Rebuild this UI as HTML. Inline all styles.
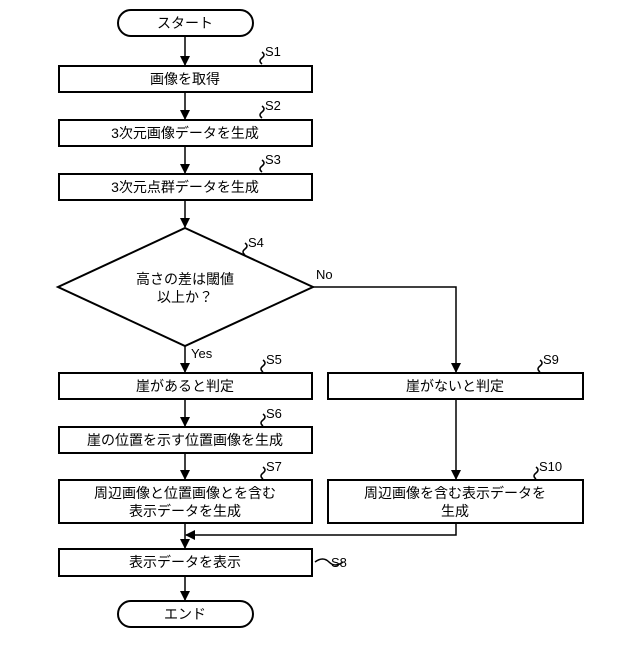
<!DOCTYPE html>
<html><head><meta charset="utf-8"><style>
body{margin:0;background:#fff}
text{font-family:"Liberation Sans","Noto Sans CJK JP",sans-serif;fill:#000}
</style></head><body>
<svg width="640" height="640" viewBox="0 0 640 640" xmlns="http://www.w3.org/2000/svg">
<defs><marker id="a" markerWidth="10" markerHeight="10" refX="9" refY="5" orient="auto" markerUnits="userSpaceOnUse"><path d="M0,0 L10,5 L0,10 Z" fill="#000"/></marker></defs>
<g fill="#fff" stroke="#000" stroke-width="2">
<rect x="118" y="10" width="135" height="26" rx="13"/>
<rect x="59" y="66" width="253" height="26"/>
<rect x="59" y="120" width="253" height="26"/>
<rect x="59" y="174" width="253" height="26"/>
<path d="M185,228 L313,287 L185,346 L58,287 Z"/>
<rect x="59" y="373" width="253" height="26"/>
<rect x="59" y="427" width="253" height="26"/>
<rect x="59" y="480" width="253" height="43"/>
<rect x="328" y="373" width="255" height="26"/>
<rect x="328" y="480" width="255" height="43"/>
<rect x="59" y="549" width="253" height="27"/>
<rect x="118" y="601" width="135" height="26" rx="13"/>
</g>
<g stroke="#000" stroke-width="1.5" fill="none">
<line x1="185" y1="36" x2="185" y2="65" marker-end="url(#a)"/>
<line x1="185" y1="92" x2="185" y2="119" marker-end="url(#a)"/>
<line x1="185" y1="146" x2="185" y2="173" marker-end="url(#a)"/>
<line x1="185" y1="200" x2="185" y2="227" marker-end="url(#a)"/>
<line x1="185" y1="346" x2="185" y2="372" marker-end="url(#a)"/>
<polyline points="313,287 456,287 456,372" marker-end="url(#a)"/>
<line x1="185" y1="399" x2="185" y2="426" marker-end="url(#a)"/>
<line x1="185" y1="453" x2="185" y2="479" marker-end="url(#a)"/>
<line x1="456" y1="399" x2="456" y2="479" marker-end="url(#a)"/>
<line x1="185" y1="523" x2="185" y2="548" marker-end="url(#a)"/>
<polyline points="456,523 456,535 186,535" marker-end="url(#a)"/>
<line x1="185" y1="576" x2="185" y2="600" marker-end="url(#a)"/>
<path d="M262,64 q-4,-3 0,-6 q4,-3 0,-6"/>
<path d="M262,118 q-4,-3 0,-6 q4,-3 0,-6"/>
<path d="M262,172 q-4,-3 0,-6 q4,-3 0,-6"/>
<path d="M245,255 q-4,-3 0,-6 q4,-3 0,-6"/>
<path d="M263,372 q-4,-3 0,-6 q4,-3 0,-6"/>
<path d="M263,426 q-4,-3 0,-6 q4,-3 0,-6"/>
<path d="M263,479 q-4,-3 0,-6 q4,-3 0,-6"/>
<path d="M540,372 q-4,-3 0,-6 q4,-3 0,-6"/>
<path d="M536,479 q-4,-3 0,-6 q4,-3 0,-6"/>
<path d="M315,562 q8,-6 14,0 q6,6 14,0"/>
</g>
<g font-size="14" text-anchor="middle">
<text x="185" y="28">スタート</text>
<text x="185" y="84">画像を取得</text>
<text x="185" y="138">3次元画像データを生成</text>
<text x="185" y="192">3次元点群データを生成</text>
<text x="185" y="284">高さの差は閾値</text>
<text x="185" y="302">以上か？</text>
<text x="185" y="391">崖があると判定</text>
<text x="185" y="445">崖の位置を示す位置画像を生成</text>
<text x="185" y="498">周辺画像と位置画像とを含む</text>
<text x="185" y="516">表示データを生成</text>
<text x="455" y="391">崖がないと判定</text>
<text x="455" y="498">周辺画像を含む表示データを</text>
<text x="455" y="516">生成</text>
<text x="185" y="567">表示データを表示</text>
<text x="185" y="619">エンド</text>
</g>
<g font-size="13">
<text x="265" y="56">S1</text>
<text x="265" y="110">S2</text>
<text x="265" y="164">S3</text>
<text x="248" y="247">S4</text>
<text x="266" y="364">S5</text>
<text x="266" y="418">S6</text>
<text x="266" y="471">S7</text>
<text x="543" y="364">S9</text>
<text x="539" y="471">S10</text>
<text x="331" y="567">S8</text>
<text x="316" y="279">No</text>
<text x="191" y="358">Yes</text>
</g>
</svg>
</body></html>
